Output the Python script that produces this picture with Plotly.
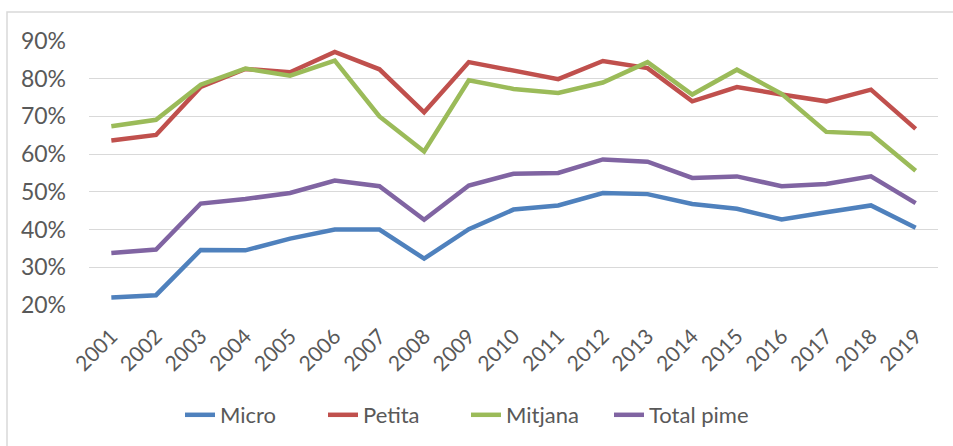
import plotly.graph_objects as go

years = [str(y) for y in range(2001, 2020)]

micro = [22.0, 22.6, 34.6, 34.5, 37.6, 40.0, 40.0, 32.3, 40.1, 45.3, 46.4, 49.7, 49.4, 46.8, 45.5, 42.7, 44.6, 46.4, 40.5]
petita = [63.6, 65.1, 77.8, 82.6, 81.7, 87.1, 82.5, 71.1, 84.4, 82.0, 79.9, 84.7, 82.8, 74.0, 77.8, 75.8, 74.0, 77.1, 66.7]
mitjana = [67.4, 69.1, 78.4, 82.7, 80.8, 84.8, 70.0, 60.7, 79.6, 77.3, 76.2, 79.0, 84.4, 75.8, 82.4, 76.0, 65.9, 65.4, 55.6]
total_pime = [33.8, 34.7, 46.9, 48.1, 49.7, 53.0, 51.5, 42.6, 51.7, 54.8, 55.0, 58.6, 58.0, 53.7, 54.1, 51.5, 52.1, 54.1, 47.0]

series_names = ["Micro", "Petita", "Mitjana", "Total pime"]
series_values = [micro, petita, mitjana, total_pime]
colors = ["#4F81BD", "#C0504D", "#9BBB59", "#8064A2"]

FONT = "Lato, 'Liberation Sans', sans-serif"
TXT = "#595959"

W, H = 953, 446
L, R, T, B = 89, 15, 41, 141
PW, PH = W - L - R, H - T - B

fig = go.Figure()
for name, vals, col in zip(series_names, series_values, colors):
    fig.add_trace(go.Scatter(
        x=years, y=[v / 100 for v in vals], name=name, mode="lines",
        line=dict(color=col, width=4.5, shape="linear"),
    ))

fig.update_layout(
    width=W, height=H,
    margin=dict(l=L, r=R, t=T, b=B, autoexpand=False),
    paper_bgcolor="white", plot_bgcolor="white",
    font=dict(family=FONT, color=TXT, size=22),
    showlegend=True,
    legend=dict(
        orientation="h", x=(180 - L) / PW, xanchor="left",
        y=-(415 - (T + PH)) / PH, yanchor="middle",
        font=dict(family=FONT, size=22, color=TXT),
        entrywidth=98, entrywidthmode="pixels",
        bgcolor="rgba(0,0,0,0)",
    ),
    xaxis=dict(
        type="category", range=[-0.5, 18.5], tickangle=-45,
        showgrid=False, showline=False, ticks="", zeroline=False,
        tickfont=dict(family=FONT, size=21, color=TXT),
        ticklabelstandoff=14,
    ),
    yaxis=dict(
        range=[0.2, 0.9], dtick=0.1, tickformat=".0%",
        showgrid=True, gridcolor="#D9D9D9", gridwidth=1.3,
        showline=False, zeroline=False, ticks="",
        tickfont=dict(family=FONT, size=23, color=TXT),
        ticklabelstandoff=22,
    ),
    shapes=[dict(
        type="rect", xref="paper", yref="paper",
        x0=(7 - L) / PW, x1=1.2, y0=-0.7, y1=(T + PH - 12) / PH,
        line=dict(color="#D9D9D9", width=1.5), fillcolor="rgba(0,0,0,0)", layer="below",
    )],
)

fig.write_html(
    "out.html",
    config={"displayModeBar": False},
    post_script="document.body.style.margin='0';document.body.style.overflow='hidden';",
)
